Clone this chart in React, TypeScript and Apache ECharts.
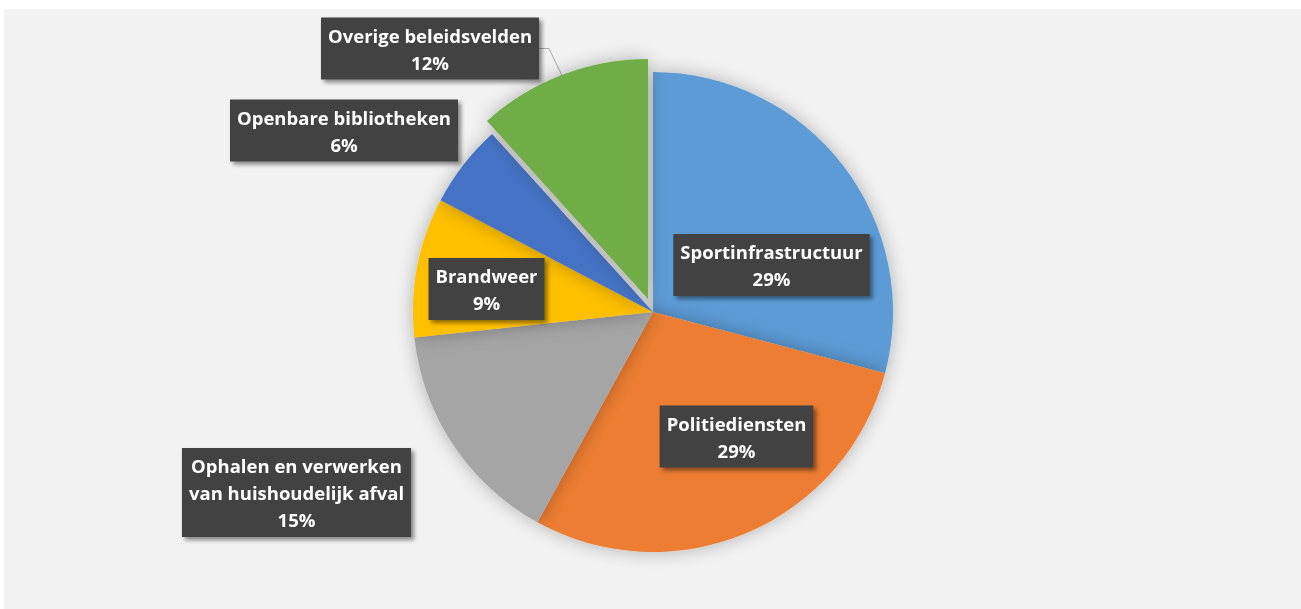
import React, { useEffect, useRef } from "react";
import * as echarts from "echarts";

const categories = [
  "Sportinfrastructuur",
  "Politiediensten",
  "Ophalen en verwerken\nvan huishoudelijk afval",
  "Brandweer",
  "Openbare bibliotheken",
  "Overige beleidsvelden",
];
const values = [29.1, 28.9, 15.3, 9.4, 5.6, 11.7];
const colors = ["#5b9bd5", "#ed7d31", "#a5a5a5", "#ffc000", "#4472c4", "#70ad47"];
const explodedIndex = 5;
// label box centres (layout only)
const labelCenters: [number, number][] = [
  [771.5, 265],
  [736.5, 436.5],
  [296.5, 492.5],
  [486.5, 289],
  [344, 130.5],
  [430, 48.5],
];

export default function App() {
  const ref = useRef<HTMLDivElement>(null);
  useEffect(() => {
    if (!ref.current) return;
    const chart = echarts.init(ref.current, null, { renderer: "svg" });

    const cx = 653;
    const cy = 312;
    const explode = 14;
    const total = values.reduce((a, b) => a + b, 0);
    const before = values.slice(0, explodedIndex).reduce((a, b) => a + b, 0);
    const midFrac = (before + values[explodedIndex] / 2) / total;
    const theta = midFrac * Math.PI * 2;
    const ex = cx + explode * Math.sin(theta);
    const ey = cy - explode * Math.cos(theta);

    const labelBase = {
      show: true,
      formatter: (p: any) => `${p.name}\n${Math.round(p.percent)}%`,
      color: "#ffffff",
      fontFamily: "Open Sans",
      fontWeight: "bold",
      fontSize: 18.5,
      lineHeight: 27,
      align: "center",
      backgroundColor: "#424242",
      padding: [4, 7, 4, 7],
      shadowBlur: 4,
      shadowOffsetX: 3,
      shadowOffsetY: 3,
      shadowColor: "rgba(0,0,0,0.45)",
    };
    const shadow = { shadowBlur: 18, shadowColor: "rgba(0,0,0,0.28)" };
    const hidden = {
      itemStyle: { color: "rgba(0,0,0,0)", shadowBlur: 0, shadowColor: "rgba(0,0,0,0)" },
      label: { show: false },
      labelLine: { show: false },
    };

    const mainData = categories.map((name, i) =>
      i === explodedIndex
        ? { name, value: values[i], ...hidden }
        : {
            name,
            value: values[i],
            itemStyle: { color: colors[i], ...shadow },
            label: { position: "inside" },
            labelLine: { show: false },
          }
    );
    const explodedData = categories.map((name, i) =>
      i === explodedIndex
        ? {
            name,
            value: values[i],
            itemStyle: { color: colors[i], ...shadow },
            label: { position: "outside" },
            labelLine: { show: true },
          }
        : { name, value: values[i], ...hidden }
    );

    const labelLayout = (params: any) => {
      const c = labelCenters[params.dataIndex];
      return { x: c[0], y: c[1], align: "center", verticalAlign: "middle" };
    };

    const common = {
      type: "pie",
      radius: 240,
      startAngle: 90,
      clockwise: true,
      selectedMode: false,
      emphasis: { disabled: true },
      label: labelBase,
      labelLine: {
        length: 10,
        length2: 10,
        lineStyle: { color: "#a6a6a6", width: 1 },
      },
      labelLayout,
    };

    chart.setOption({
      animation: false,
      graphic: [
        {
          type: "rect",
          z: -10,
          silent: true,
          shape: { x: 4, y: 9, width: 1297, height: 600 },
          style: { fill: "#f2f2f2" },
        },
      ],
      series: [
        { ...common, name: "main", center: [cx, cy], data: mainData },
        { ...common, name: "exploded", center: [ex, ey], data: explodedData },
      ],
    });
    return () => chart.dispose();
  }, []);
  return (
    <div
      ref={ref}
      style={{ position: "fixed", left: 0, top: 0, width: 1301, height: 609 }}
    />
  );
}
